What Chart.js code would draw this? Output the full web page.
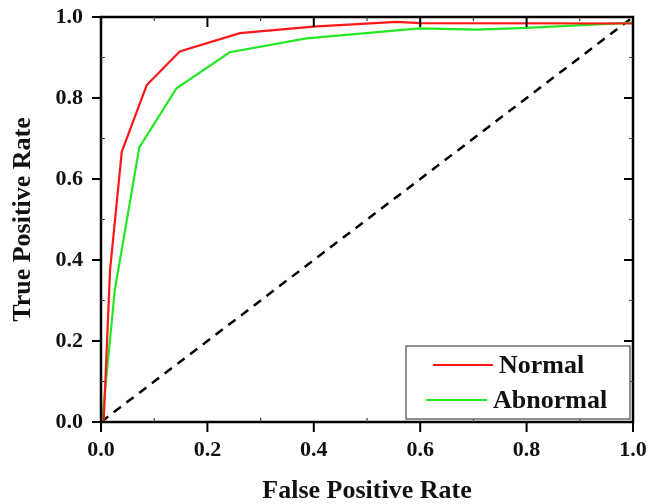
<!DOCTYPE html>
<html>
<head>
<meta charset="utf-8">
<script src="https://cdn.jsdelivr.net/npm/chart.js@4/dist/chart.umd.min.js"></script>
<style>
  html, body { margin: 0; padding: 0; background: #fff; }
  #wrap { width: 648px; height: 504px; }
</style>
</head>
<body>
<div id="wrap"><canvas id="roc" width="648" height="504"></canvas></div>
<script>
// ROC data
const normalFpr = [0.005, 0.017, 0.039, 0.086, 0.148, 0.261, 0.399, 0.555, 0.600, 1.000];
const normalTpr = [0.000, 0.375, 0.667, 0.832, 0.915, 0.960, 0.976, 0.988, 0.985, 0.984];
const abnormalFpr = [0.002, 0.026, 0.072, 0.142, 0.242, 0.386, 0.599, 0.705, 0.800, 1.000];
const abnormalTpr = [0.000, 0.326, 0.678, 0.824, 0.913, 0.947, 0.972, 0.969, 0.973, 0.986];
const chanceLine = [0, 1];
const seriesNames = ["Normal", "Abnormal"];
const axisTicks = [0, 0.2, 0.4, 0.6, 0.8, 1.0];
const minorTicks = [0.1, 0.3, 0.5, 0.7, 0.9];

const FONT = "'Liberation Serif', 'Times New Roman', serif";
const RED = "rgb(255,22,22)";
const GREEN = "rgb(34,232,34)";

const toPts = (xs, ys) => xs.map((x, i) => ({ x, y: ys[i] }));

// frame, ticks and the boxed legend, drawn the way the original plot has them
const framePlugin = {
  id: "frame",
  afterDatasetsDraw(chart) {
    const { ctx, chartArea: a, scales } = chart;
    const xs = scales.x, ys = scales.y;
    ctx.save();
    ctx.strokeStyle = "#000";
    ctx.lineWidth = 2.5;
    ctx.strokeRect(a.left, a.top, a.right - a.left, a.bottom - a.top);
    ctx.lineWidth = 2;
    ctx.beginPath();
    axisTicks.forEach(v => {
      const px = xs.getPixelForValue(v);
      ctx.moveTo(px, a.bottom); ctx.lineTo(px, a.bottom + 10);
      ctx.moveTo(px, a.top); ctx.lineTo(px, a.top + 10);
      const py = ys.getPixelForValue(v);
      ctx.moveTo(a.left, py); ctx.lineTo(a.left - 9, py);
      ctx.moveTo(a.right, py); ctx.lineTo(a.right - 9, py);
    });
    ctx.stroke();
    ctx.lineWidth = 1.2;
    ctx.strokeStyle = "#444";
    ctx.beginPath();
    minorTicks.forEach(v => {
      const px = xs.getPixelForValue(v);
      ctx.moveTo(px, a.bottom); ctx.lineTo(px, a.bottom - 4);
      ctx.moveTo(px, a.top); ctx.lineTo(px, a.top + 4);
      const py = ys.getPixelForValue(v);
      ctx.moveTo(a.left, py); ctx.lineTo(a.left + 4, py);
      ctx.moveTo(a.right, py); ctx.lineTo(a.right - 4, py);
    });
    ctx.stroke();

    // legend box
    const bx = 406, by = 346, bw = 224, bh = 73;
    ctx.fillStyle = "#fff";
    ctx.fillRect(bx, by, bw, bh);
    ctx.strokeStyle = "#555";
    ctx.lineWidth = 1.3;
    ctx.strokeRect(bx, by, bw, bh);
    ctx.font = "bold 26px " + FONT;
    ctx.textBaseline = "middle";
    ctx.fillStyle = "#111";
    const rows = chart.data.datasets.filter(d => seriesNames.includes(d.label));
    const layout = [{ x0: 433, x1: 493, y: 365 }, { x0: 426, x1: 487, y: 400 }];
    rows.forEach((d, i) => {
      const r = layout[i];
      ctx.strokeStyle = d.borderColor;
      ctx.lineWidth = 2;
      ctx.beginPath();
      ctx.moveTo(r.x0, r.y); ctx.lineTo(r.x1, r.y);
      ctx.stroke();
      ctx.fillText(d.label, r.x1 + 6, r.y + 1);
    });
    ctx.restore();
  }
};

new Chart(document.getElementById("roc"), {
  type: "scatter",
  data: {
    datasets: [
      {
        label: seriesNames[0],
        data: toPts(normalFpr, normalTpr),
        showLine: true, borderColor: RED, borderWidth: 2.2,
        pointRadius: 0, tension: 0
      },
      {
        label: seriesNames[1],
        data: toPts(abnormalFpr, abnormalTpr),
        showLine: true, borderColor: GREEN, borderWidth: 2.2,
        pointRadius: 0, tension: 0
      },
      {
        label: "chance",
        data: toPts(chanceLine, chanceLine),
        showLine: true, borderColor: "#000", borderWidth: 2.5,
        borderDash: [9, 7], pointRadius: 0
      }
    ]
  },
  options: {
    responsive: false,
    animation: false,
    layout: { padding: { top: 17, right: 15, left: 0, bottom: 0 } },
    plugins: { legend: { display: false }, tooltip: { enabled: false } },
    scales: {
      x: {
        type: "linear", min: 0, max: 1,
        afterFit: s => { s.height = 82; s.paddingLeft = 0; s.paddingRight = 0; },
        afterBuildTicks: s => { s.ticks = axisTicks.map(v => ({ value: v })); },
        grid: { display: false, drawTicks: false },
        border: { display: false },
        ticks: {
          padding: 15, color: "#111",
          font: { family: FONT, size: 22, weight: "bold" },
          callback: v => v.toFixed(1)
        },
        title: {
          display: true, text: "False Positive Rate", color: "#111",
          font: { family: FONT, size: 26, weight: "bold", lineHeight: 1.0 },
          padding: { top: 4, bottom: 0 }
        }
      },
      y: {
        type: "linear", min: 0, max: 1,
        afterFit: s => { s.width = 101; s.paddingTop = 0; s.paddingBottom = 0; },
        afterBuildTicks: s => { s.ticks = axisTicks.map(v => ({ value: v })); },
        grid: { display: false, drawTicks: false },
        border: { display: false },
        ticks: {
          padding: 18, color: "#111",
          font: { family: FONT, size: 22, weight: "bold" },
          callback: v => v.toFixed(1)
        },
        title: {
          display: true, text: "True Positive Rate", color: "#111",
          font: { family: FONT, size: 26, weight: "bold" },
          padding: { top: 8, bottom: 4 }
        }
      }
    }
  },
  plugins: [framePlugin]
});
</script>
</body>
</html>
